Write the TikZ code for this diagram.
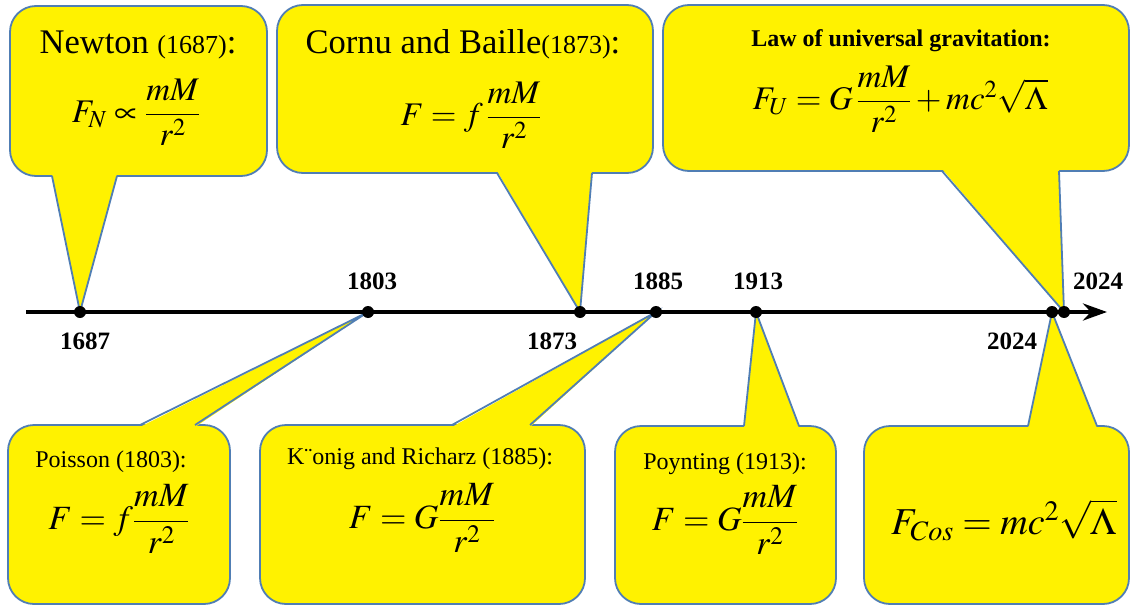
\documentclass[tikz,border=0pt]{standalone}
\usepackage{amsmath}
\usepackage{mathptmx}
\usepackage{fontspec}
\setmainfont{Liberation Serif}
\usetikzlibrary{arrows.meta}
\definecolor{bubbleblue}{RGB}{80,126,180}
\tikzset{
  bubble/.style={draw=bubbleblue, fill=yellow, line width=1.8pt, rounded corners=26pt},
  pointer/.style={draw=bubbleblue, line width=1.8pt, line join=miter},
  dot/.style={circle, fill=black, inner sep=0pt, minimum size=12pt},
  year/.style={font=\bfseries\fontsize{25}{30}\selectfont, inner sep=0pt},
  title/.style={anchor=base, inner sep=0pt},
  formula/.style={inner sep=0pt},
}
\begin{document}
\begin{tikzpicture}[x=1pt, y=-1pt]
  \useasboundingbox (0,0) rectangle (1134,607);
  % points on the time axis
  \coordinate (t1687) at (80,312);
  \coordinate (t1803) at (368,312);
  \coordinate (t1873) at (580,312);
  \coordinate (t1885) at (656,312);
  \coordinate (t1913) at (756,312);
  \coordinate (t2024a) at (1052,312);
  \coordinate (t2024b) at (1064,312);
  \coordinate (axisstart) at (26,312);
  \coordinate (axisend) at (1107,312);

  % upper callouts
  \filldraw[bubble] (10,6) rectangle (267,176);
  \fill[yellow] (52,174) -- (t1687) -- (117,174) -- cycle;
  \draw[pointer] (52,176) -- (t1687) -- (117,176);

  \filldraw[bubble] (277,5) rectangle (653,173);
  \fill[yellow] (497,171) -- (t1873) -- (592,171) -- cycle;
  \draw[pointer] (497,173) -- (t1873) -- (592,173);

  \filldraw[bubble] (663,5) rectangle (1129,171);
  \fill[yellow] (942,169) -- (t2024b) -- (1059,169) -- cycle;
  \draw[pointer] (942,171) -- (t2024b) -- (1059,171);

  % lower callouts
  \filldraw[bubble] (8,425) rectangle (230,604);
  \fill[yellow] (140,427) -- (t1803) -- (195,427) -- cycle;
  \draw[pointer] (140,425) -- (t1803) -- (195,425);

  \filldraw[bubble] (260,425) rectangle (585,604);
  \fill[yellow] (452,427) -- (t1885) -- (530,427) -- cycle;
  \draw[pointer] (452,425) -- (t1885) -- (530,425);

  \filldraw[bubble] (615,426) rectangle (836,604);
  \fill[yellow] (744,428) -- (t1913) -- (799,428) -- cycle;
  \draw[pointer] (744,426) -- (t1913) -- (799,426);

  \filldraw[bubble] (864,426) rectangle (1129,604);
  \fill[yellow] (1028,428) -- (t2024a) -- (1097,428) -- cycle;
  \draw[pointer] (1028,426) -- (t2024a) -- (1097,426);

  % time axis
  \draw[line width=4pt, -{Stealth[length=24pt, width=17pt]}] (axisstart) -- (axisend);
  \node[dot] (d1687) at (t1687) {};
  \node[dot] (d1803) at (t1803) {};
  \node[dot] (d1873) at (t1873) {};
  \node[dot] (d1885) at (t1885) {};
  \node[dot] (d1913) at (t1913) {};
  \node[dot] (d2024a) at (t2024a) {};
  \node[dot] (d2024b) at (t2024b) {};

  % years
  \node[year] (y1687) at (85,341) {1687};
  \node[year] (y1803) at (372,281) {1803};
  \node[year] (y1873) at (552,341) {1873};
  \node[year] (y1885) at (658,281) {1885};
  \node[year] (y1913) at (758,281) {1913};
  \node[year] (y2024b) at (1098,281) {2024};
  \node[year] (y2024a) at (1012,341) {2024};

  % texts in the callouts
  \node[title, font=\fontsize{34.5}{38}\selectfont] (newton) at (138,54)
    {Newton {\fontsize{26}{30}\selectfont(1687)}:};
  \node[formula, font=\fontsize{33}{36}\selectfont] (fnewton) at (136,112)
    {$F_N \propto \dfrac{mM}{r^{2}}$};

  \node[title, font=\fontsize{34.5}{38}\selectfont] (cornu) at (463,54)
    {Cornu and Baille{\fontsize{26}{30}\selectfont(1873)}:};
  \node[formula, font=\fontsize{33}{36}\selectfont] (fcornu) at (471,115)
    {$F = f\,\dfrac{mM}{r^{2}}$};

  \node[title, font=\bfseries\fontsize{24}{28}\selectfont] (law) at (901,47)
    {Law of universal gravitation:};
  \node[formula, font=\fontsize{33}{36}\selectfont] (flaw) at (900,99)
    {$F_U = G\,\dfrac{mM}{r^{2}} + mc^{2}\sqrt{\Lambda}$};

  \node[title, font=\fontsize{24}{28}\selectfont] (poisson) at (111,467)
    {Poisson (1803):};
  \node[formula, font=\fontsize{34}{38}\selectfont] (fpoisson) at (119,519)
    {$F = f\dfrac{mM}{r^{2}}$};

  \node[title, font=\fontsize{24}{28}\selectfont] (konig) at (420,464)
    {K¨onig and Richarz (1885):};
  \node[formula, font=\fontsize{34}{38}\selectfont] (fkonig) at (422,518)
    {$F = G\dfrac{mM}{r^{2}}$};

  \node[title, font=\fontsize{24}{28}\selectfont] (poynting) at (725,469)
    {Poynting (1913):};
  \node[formula, font=\fontsize{34}{38}\selectfont] (fpoynting) at (725,520)
    {$F = G\dfrac{mM}{r^{2}}$};

  \node[formula, font=\fontsize{38}{44}\selectfont] (fcos) at (1004,520)
    {$F_{Cos} = mc^{2}\sqrt{\Lambda}$};
\end{tikzpicture}
\end{document}
